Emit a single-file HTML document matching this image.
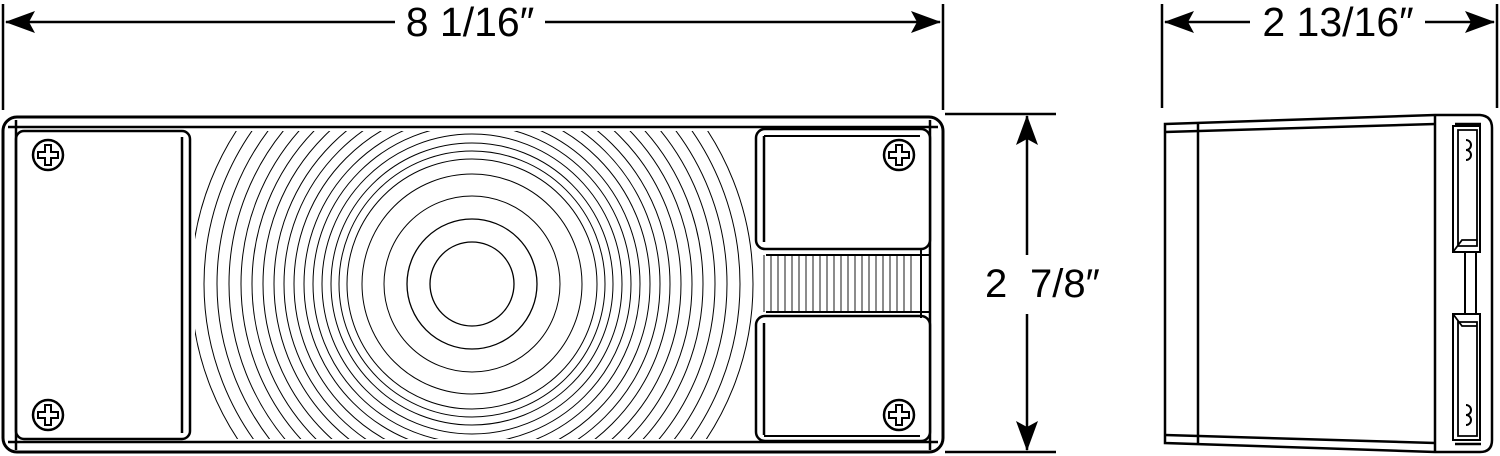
<!DOCTYPE html>
<html><head><meta charset="utf-8"><style>html,body{margin:0;padding:0;background:#fff;width:1500px;height:456px;overflow:hidden}svg{display:block}</style></head>
<body>
<svg width="1500" height="456" viewBox="0 0 1500 456" xmlns="http://www.w3.org/2000/svg">
<defs>
<clipPath id="lens"><rect x="195" y="131" width="562" height="308"/></clipPath>
<g id="screw"><circle r="15" fill="#fff" stroke="#000" stroke-width="2.5"/><path d="M-3,-10 H3 V-3 H10 V3 H3 V10 H-3 V3 H-10 V-3 H-3 Z" fill="none" stroke="#000" stroke-width="2"/></g>
<g id="arrR"><path d="M0,0 L-30,-11 L-24,0 L-30,11 Z" fill="#000"/></g>
</defs>
<g font-family="'Liberation Sans',sans-serif" font-size="40" fill="#000">
<line x1="3" y1="4" x2="3" y2="110" stroke="#000" stroke-width="2.5"/>
<line x1="943" y1="4" x2="943" y2="110" stroke="#000" stroke-width="2.5"/>
<line x1="6" y1="22" x2="395" y2="22" stroke="#000" stroke-width="2.5"/>
<line x1="545" y1="22" x2="940" y2="22" stroke="#000" stroke-width="2.5"/>
<use href="#arrR" transform="translate(5,22) rotate(180)"/>
<use href="#arrR" transform="translate(941,22)"/>
<text x="470" y="36" text-anchor="middle" font-size="41">8 1/16″</text>
<line x1="1162" y1="4" x2="1162" y2="108" stroke="#000" stroke-width="2.5"/>
<line x1="1497" y1="4" x2="1497" y2="108" stroke="#000" stroke-width="2.5"/>
<line x1="1165" y1="22" x2="1250" y2="22" stroke="#000" stroke-width="2.5"/>
<line x1="1425" y1="22" x2="1494" y2="22" stroke="#000" stroke-width="2.5"/>
<use href="#arrR" transform="translate(1164,22) rotate(180)"/>
<use href="#arrR" transform="translate(1495,22)"/>
<text x="1338" y="36" text-anchor="middle" font-size="41">2 13/16″</text>
<line x1="945" y1="114" x2="1056" y2="114" stroke="#000" stroke-width="2.5"/>
<line x1="945" y1="452" x2="1056" y2="452" stroke="#000" stroke-width="2.5"/>
<line x1="1027" y1="116" x2="1027" y2="255" stroke="#000" stroke-width="2.5"/>
<line x1="1027" y1="314" x2="1027" y2="450" stroke="#000" stroke-width="2.5"/>
<use href="#arrR" transform="translate(1027,115) rotate(-90)"/>
<use href="#arrR" transform="translate(1027,451) rotate(90)"/>
<text x="985" y="297">2</text>
<text x="1030" y="297">7/8″</text>
</g>
<g fill="none" stroke="#000">
<rect x="3" y="117" width="940" height="335" rx="14" stroke-width="3"/>
<line x1="8" y1="127" x2="938" y2="127" stroke-width="2.5"/>
<line x1="8" y1="442" x2="938" y2="442" stroke-width="2.5"/>
<line x1="16" y1="120" x2="16" y2="450" stroke-width="2.5"/>
<line x1="930" y1="120" x2="930" y2="450" stroke-width="2.5"/>
<rect x="16" y="131" width="174" height="308" rx="8" stroke-width="2.5"/>
<line x1="182" y1="137" x2="182" y2="433" stroke-width="2.5"/>
<g clip-path="url(#lens)" stroke-width="1">
<circle cx="472" cy="284" r="42" stroke-width="1.3"/>
<circle cx="472" cy="284" r="65" stroke-width="1.3"/>
<circle cx="472" cy="284" r="88"/>
<circle cx="472" cy="284" r="110"/>
<circle cx="472" cy="284" r="125"/>
<circle cx="472" cy="284" r="133"/>
<circle cx="472" cy="284" r="141"/>
<circle cx="472" cy="284" r="150"/>
<circle cx="472" cy="284" r="159"/>
<circle cx="472" cy="284" r="168"/>
<circle cx="472" cy="284" r="178"/>
<circle cx="472" cy="284" r="188"/>
<circle cx="472" cy="284" r="198"/>
<circle cx="472" cy="284" r="209"/>
<circle cx="472" cy="284" r="220"/>
<circle cx="472" cy="284" r="231"/>
<circle cx="472" cy="284" r="243"/>
<circle cx="472" cy="284" r="255"/>
<circle cx="472" cy="284" r="268"/>
<circle cx="472" cy="284" r="281"/>
</g>
<rect x="756" y="129" width="174" height="120" rx="9" fill="#fff" stroke-width="2.5"/>
<line x1="764" y1="136" x2="764" y2="242" stroke-width="2.5"/>
<line x1="764" y1="136" x2="920" y2="136" stroke-width="2"/>
<rect x="756" y="316" width="174" height="125" rx="9" fill="#fff" stroke-width="2.5"/>
<line x1="764" y1="323" x2="764" y2="435" stroke-width="2.5"/>
<line x1="764" y1="436" x2="920" y2="436" stroke-width="2"/>
<line x1="766" y1="255" x2="930" y2="255" stroke-width="2"/>
<line x1="766" y1="312" x2="930" y2="312" stroke-width="2"/>
<line x1="921" y1="249" x2="921" y2="318" stroke-width="2"/>
<g stroke-width="0.9">
<path d="M764 255V312M771 255V312M778 255V312M785 255V312M792 255V312M799 255V312M806 255V312M813 255V312M820 255V312M827 255V312M834 255V312M841 255V312M848 255V312M855 255V312M862 255V312M869 255V312M876 255V312M883 255V312M890 255V312M897 255V312M904 255V312M911 255V312"/>
</g>
</g>
<use href="#screw" x="48" y="155"/>
<use href="#screw" x="48" y="415"/>
<use href="#screw" x="899" y="155"/>
<use href="#screw" x="899" y="415"/>
<g fill="none" stroke="#000" stroke-width="2.5">
<path d="M1165,124 L1435,115 L1480,115 Q1492,116 1492,128 L1492,440 Q1492,452 1480,452 L1435,452 L1165,443 Z"/>
<line x1="1165" y1="132" x2="1435" y2="124"/>
<line x1="1165" y1="435" x2="1435" y2="443"/>
<line x1="1198" y1="123" x2="1198" y2="444"/>
<line x1="1435" y1="115" x2="1435" y2="452"/>
<line x1="1455" y1="124" x2="1481" y2="124"/>
<line x1="1455" y1="444" x2="1481" y2="444"/>
<rect x="1453" y="126" width="27" height="126" stroke-width="2"/>
<path d="M1458,130 L1477,130 L1477,246 L1458,246 Z M1453,252 L1462,240 L1477,240" stroke-width="1.8"/>
<rect x="1453" y="314" width="27" height="126" stroke-width="2"/>
<path d="M1458,322 L1477,322 L1477,436 L1458,436 Z M1453,314 L1462,326 L1477,326" stroke-width="1.8"/>
<line x1="1465" y1="252" x2="1465" y2="314" stroke-width="2"/>
<line x1="1476" y1="252" x2="1476" y2="314" stroke-width="2"/>
<path d="M1466,140 a5,5 0 0 1 0,10 a5,5 0 0 1 0,10" stroke-width="2"/>
<path d="M1466,405 a5,5 0 0 1 0,10 a5,5 0 0 1 0,10" stroke-width="2"/>
</g>
</svg>
</body></html>
